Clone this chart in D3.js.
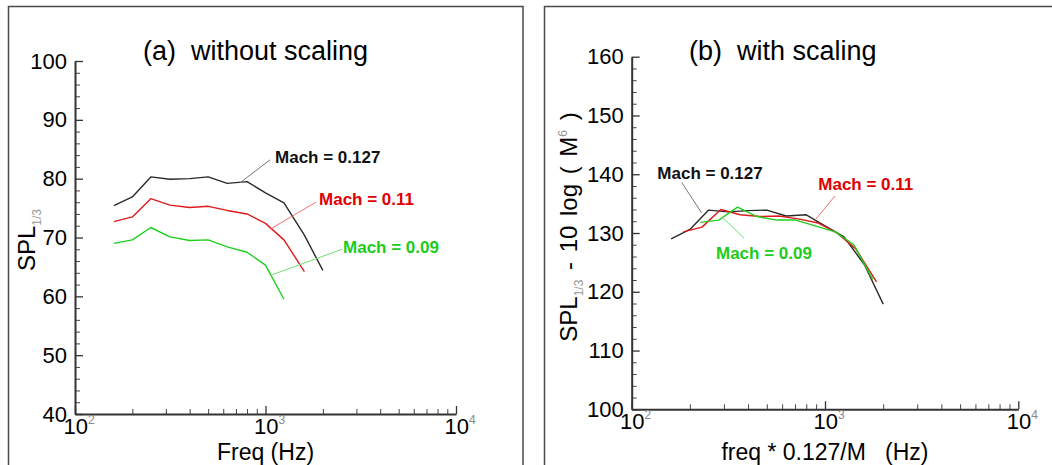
<!DOCTYPE html>
<html><head><meta charset="utf-8">
<script src="https://cdn.jsdelivr.net/npm/d3@7"></script>
<style>
html,body{margin:0;padding:0;background:#fff;}
svg{display:block;font-family:"Liberation Sans",Arial,Helvetica,sans-serif;}
text{white-space:pre;}
</style></head>
<body>
<svg id="chart" width="1052" height="465"></svg>
<script>
// ---------------- data ----------------
// Panel (a): without scaling — 1/3-octave centre frequencies (Hz) and SPL (dB)
const freqA127 = [160,200,250,315,400,500,630,800,1000,1250,1600,2000];
const splA127  = [75.4,76.9,80.3,79.9,80.0,80.3,79.2,79.5,77.6,75.9,70.4,64.4];
const freqA110 = [160,200,250,315,400,500,630,800,1000,1250,1600];
const splA110  = [72.7,73.5,76.6,75.5,75.1,75.3,74.6,74.0,72.4,69.6,64.2];
const freqA090 = [160,200,250,315,400,500,630,800,1000,1250];
const splA090  = [69.0,69.6,71.7,70.1,69.5,69.6,68.4,67.5,65.3,59.5];

// Panel (b): with scaling — scaled frequency (Hz) and SPL - 10 log(M^6)
const freqB127 = [160,200,250,315,400,500,630,800,1000,1250,1600,2000];
const splB127  = [129.0,130.6,133.9,133.6,133.8,133.9,132.9,133.1,131.2,129.4,124.6,117.9];
const freqB110 = [185,231,289,364,462,577,727,924,1155,1443,1847];
const splB110  = [130.2,131.0,134.0,133.1,132.8,132.9,132.4,131.7,130.0,127.3,121.7];
const freqB090 = [226,282,353,445,564,706,889,1129,1411,1764];
const splB090  = [131.8,132.2,134.4,132.8,132.2,132.2,131.2,130.2,128.0,122.1];

const seriesNames = ["Mach = 0.127","Mach = 0.11","Mach = 0.09"];
const xMajorTicks = [100,1000,10000];
const xTickExponents = ["2","3","4"];
const yTicksA = [40,50,60,70,80,90,100];
const yTicksB = [100,110,120,130,140,150,160];
const titleA = "(a)  without scaling";
const titleB = "(b)  with scaling";
const xTitleA = "Freq (Hz)";
const xTitleB = "freq * 0.127/M   (Hz)";

// label anchor points (data units): [labelFreq, labelVal, leaderFromF, leaderFromV, leaderToF, leaderToV]
const annotA = [[1122,83.7,1056,83.2,735,79.3],[1910,76.5,1841,76.0,1056,71.4],[2553,68.4,2522,68.0,1069,63.6]];
const annotB = [[135.7,140.3,181.4,138.6,230.2,133.4],[923,138.3,1126,136.3,888,132.2],[273,126.7,292,132.8,382,129.1]];

// ---------------- styles ----------------
const lineColors  = ["#2a2a2a","#e01a1a","#1fcf1f"];
const labelColors = ["#111111","#e00000","#1ccc1c"];
const leaderColors= ["#777777","#f07070","#70e070"];

const svg = d3.select("#chart");
svg.append("rect").attr("width",1052).attr("height",465).attr("fill","#fff");

// panel frames
svg.append("rect").attr("x",8.5).attr("y",6.5).attr("width",514.5).attr("height",520)
  .attr("fill","none").attr("stroke","#4a4a4a").attr("stroke-width",1.5);
svg.append("rect").attr("x",544.5).attr("y",6.5).attr("width",540).attr("height",520)
  .attr("fill","none").attr("stroke","#4a4a4a").attr("stroke-width",1.5);

function minorLogTicks(){
  const t=[];
  for (const d of [100,1000]) for (let k=2;k<=9;k++) t.push(d*k);
  return t;
}

function drawPanel(cfg){
  const x = d3.scaleLog().domain([100,10000]).range([cfg.x0,cfg.x1]);
  const y = d3.scaleLinear().domain(cfg.ydom).range([cfg.yb,cfg.yt]);
  const g = svg.append("g");

  // y minor ticks
  const yMinor = d3.range(cfg.ydom[0],cfg.ydom[1]+0.001,2).filter(v=>(v-cfg.ydom[0])%10!==0);
  g.append("g").attr("transform",`translate(${cfg.x0},0)`)
    .call(d3.axisLeft(y).tickValues(yMinor).tickSize(-5).tickFormat(""))
    .call(s=>s.select(".domain").remove())
    .call(s=>s.selectAll("line").attr("stroke","#444").attr("stroke-width",1));
  // x minor ticks
  g.append("g").attr("transform",`translate(0,${cfg.yb})`)
    .call(d3.axisBottom(x).tickValues(minorLogTicks()).tickSize(-5).tickFormat(""))
    .call(s=>s.select(".domain").remove())
    .call(s=>s.selectAll("line").attr("stroke","#444").attr("stroke-width",1));

  // y major axis
  const ya = g.append("g").attr("transform",`translate(${cfg.x0},0)`)
    .call(d3.axisLeft(y).tickValues(cfg.yticks).tickSize(-8).tickSizeOuter(0).tickPadding(8).tickFormat(d3.format("d")));
  ya.select(".domain").attr("stroke","#333").attr("stroke-width",2);
  ya.selectAll("line").attr("stroke","#333").attr("stroke-width",1.3);
  ya.selectAll("text").attr("font-size",22).attr("fill","#000").attr("font-family","Liberation Sans, Arial, sans-serif");

  // x major axis
  const xa = g.append("g").attr("transform",`translate(0,${cfg.yb})`)
    .call(d3.axisBottom(x).tickValues(xMajorTicks).tickSize(-8).tickSizeOuter(0).tickFormat(""));
  xa.select(".domain").attr("stroke","#333").attr("stroke-width",2);
  xa.selectAll("line").attr("stroke","#333").attr("stroke-width",1.3);
  xMajorTicks.forEach((v,i)=>{
    const t = g.append("text").attr("x",x(v)+4).attr("y",cfg.yb+20)
      .attr("text-anchor","middle").attr("font-size",22).attr("fill","#000");
    t.append("tspan").text("10");
    t.append("tspan").attr("font-size",12).attr("fill","#888").attr("dy",-10).text(xTickExponents[i]);
  });

  // curves
  const line = d3.line().x(d=>x(d[0])).y(d=>y(d[1]));
  cfg.series.forEach((s,i)=>{
    g.append("path").datum(d3.zip(s[0],s[1])).attr("d",line)
      .attr("fill","none").attr("stroke",lineColors[i]).attr("stroke-width",1.4)
      .attr("stroke-linejoin","round");
  });

  // annotations
  cfg.annot.forEach((a,i)=>{
    g.append("line").attr("x1",x(a[2])).attr("y1",y(a[3])).attr("x2",x(a[4])).attr("y2",y(a[5]))
      .attr("stroke",leaderColors[i]).attr("stroke-width",1);
    g.append("text").attr("x",x(a[0])).attr("y",y(a[1])).attr("dy","0.36em")
      .attr("font-size",17).attr("font-weight","bold").attr("fill",labelColors[i]).text(seriesNames[i]);
  });

  // title
  g.append("text").attr("x",cfg.titleX).attr("y",60).attr("font-size",27).attr("fill","#000").text(cfg.title);
  // x title
  g.append("text").attr("x",x(1000)).attr("y",460).attr("text-anchor","middle")
    .attr("font-size",23).attr("fill","#000").text(cfg.xTitle);
  return {x,y};
}

drawPanel({x0:75,x1:456,yb:414,yt:61,ydom:[40,100],yticks:yTicksA,
  series:[[freqA127,splA127],[freqA110,splA110],[freqA090,splA090]],
  annot:annotA,title:titleA,titleX:143,xTitle:xTitleA});
drawPanel({x0:631.7,x1:1018.3,yb:409.3,yt:56.7,ydom:[100,160],yticks:yTicksB,
  series:[[freqB127,splB127],[freqB110,splB110],[freqB090,splB090]],
  annot:annotB,title:titleB,titleX:689,xTitle:xTitleB});

// y titles
function yTitle(xb,yc,parts){
  const t = svg.append("text").attr("transform",`translate(${xb},${yc}) rotate(-90)`)
    .attr("text-anchor","middle").attr("font-size",24).attr("fill","#000")
    .attr("word-spacing",3);
  let shift=0;
  parts.forEach(p=>{
    const ts=t.append("tspan").text(p.t);
    let target = p.sub?6:(p.sup?-10:0);
    ts.attr("dy",target-shift); shift=target;
    if(p.sub||p.sup) ts.attr("font-size",12).attr("fill","#999");
  });
}
yTitle(35,240,[{t:"SPL"},{t:"1/3",sub:true}]);
yTitle(577,227,[{t:"SPL"},{t:"1/3",sub:true},{t:" - 10 log ( M"},{t:"6",sup:true},{t:" )"}]);
</script>
</body></html>
